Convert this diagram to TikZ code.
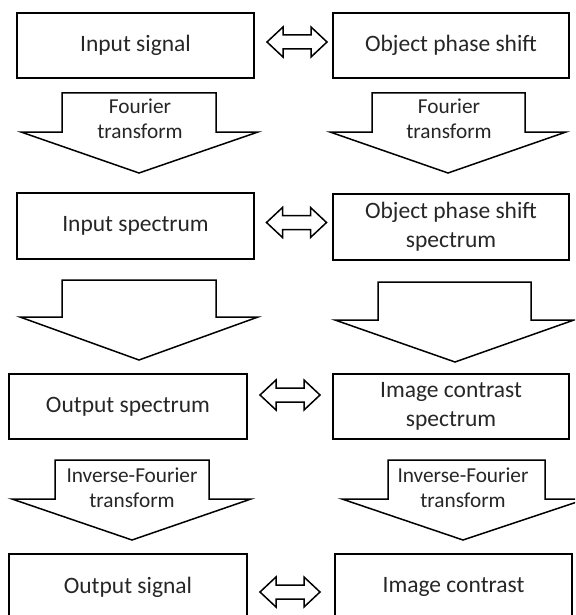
\documentclass[tikz,border=0pt]{standalone}
\usepackage{fontspec}
\setmainfont{Carlito}
\usetikzlibrary{calc}
\tikzset{
  box/.style={draw=black, line width=1.5pt, inner sep=0pt, align=center,
    text=black!85, font=\fontsize{23.5}{29}\selectfont},
  blockarrow/.style={draw=black, line width=1.5pt, fill=white, line join=miter},
  lbl/.style={inner sep=0pt, align=center, text=black!85,
    font=\fontsize{21.3}{25}\selectfont},
  swap/.pic={
    \draw[blockarrow] (-30,0) -- (-14,-15) -- (-14,-7) -- (14,-7) -- (14,-15)
      -- (30,0) -- (14,15) -- (14,7) -- (-14,7) -- (-14,15) -- cycle;
  }
}
% #1 shaft left, #2 shaft right, #3 top, #4 wing level,
% #5 wing left, #6 wing right, #7 tip x, #8 tip y
\newcommand\downblock[8]{%
  \draw[blockarrow] (#1,#3) -- (#2,#3) -- (#2,#4) -- (#6,#4) -- (#7,#8)
    -- (#5,#4) -- (#1,#4) -- cycle;}
\begin{document}
\begin{tikzpicture}[x=1pt,y=-1pt]
\useasboundingbox (0,0) rectangle (575,615);
\clip (0,0) rectangle (575,615);

% left column: signal side
\node[box, minimum width=237pt, minimum height=65pt] (inSig)  at (135.5,45.5) {Input signal};
\node[box, minimum width=237pt, minimum height=66pt] (inSpec) at (135.5,226)  {Input spectrum};
\node[box, minimum width=238pt, minimum height=65pt] (outSpec) at (128,406.5) {Output spectrum};
\node[box, minimum width=238pt, minimum height=66pt] (outSig) at (128,587)    {Output signal};

% right column: object side
\node[box, minimum width=236pt, minimum height=65pt] (objPh)   at (451,45.5)  {Object phase shift};
\node[box, minimum width=236pt, minimum height=66pt] (objSpec) at (451,227)   {Object phase shift\\spectrum};
\node[box, minimum width=236pt, minimum height=65pt] (imgSpec) at (451,406.5) {Image contrast\\spectrum};
\node[box, minimum width=237pt, minimum height=66pt] (imgCon)  at (453.5,587) {Image contrast};

% correspondences between the two columns
\path ($(inSig.east)!0.5!(objPh.west)$)    ++(3.5,-3.5) pic {swap};
\path ($(inSpec.east)!0.5!(objSpec.west)$) ++(3,-4)     pic {swap};
\path ($(outSpec.east)!0.5!(imgSpec.west)$) ++(0,-11.5) pic {swap};
\path ($(outSig.east)!0.5!(imgCon.west)$)  ++(-1,5)     pic {swap};

% transforms down the left column
\downblock{62}{216}{93}{132}{21}{258}{139}{173}
\node[lbl] (ftL) at (140,119) {Fourier\\transform};
\downblock{62}{216}{280}{317}{20}{258}{139}{360}
\downblock{55}{209}{460}{499}{12}{251}{132}{540}
\node[lbl] (iftL) at (132,488) {Inverse-Fourier\\transform};

% transforms down the right column
\downblock{372}{525}{93}{132}{330}{566}{448}{173}
\node[lbl] (ftR) at (449,119) {Fourier\\transform};
\downblock{378}{531}{282}{320}{335}{574}{455}{362}
\downblock{388}{545}{460}{499}{342}{586}{463}{540}
\node[lbl] (iftR) at (463,488) {Inverse-Fourier\\transform};
\end{tikzpicture}
\end{document}
